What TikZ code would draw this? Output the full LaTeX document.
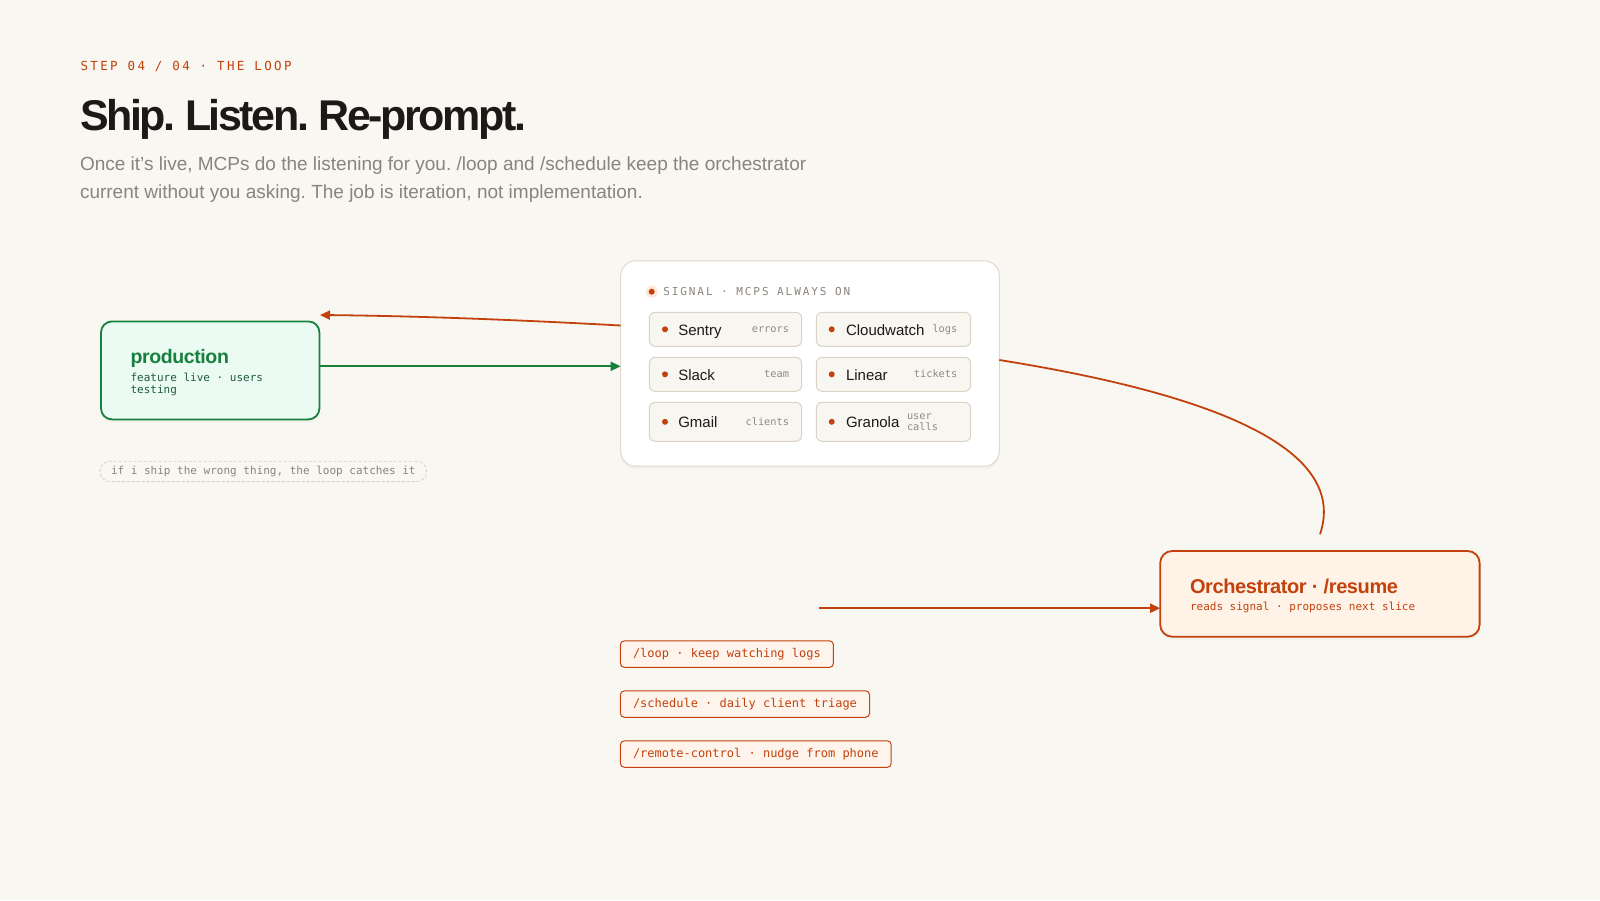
\documentclass[tikz,border=0pt]{standalone}
\usepackage{fontspec}
\setmainfont{Liberation Sans}
\newfontfamily\monof{DejaVu Sans Mono}
\newfontfamily\monosp[LetterSpace=19]{DejaVu Sans Mono}
\newfontfamily\monosig[LetterSpace=17.5]{DejaVu Sans Mono}
\newfontfamily\titlef[LetterSpace=-5.6]{Liberation Sans}
\newfontfamily\headf[LetterSpace=-2]{Liberation Sans}
\usetikzlibrary{arrows.meta,shadows}
\definecolor{bg}{HTML}{F9F7F2}
\definecolor{ink}{HTML}{1C1A17}
\definecolor{muted}{HTML}{8A847C}
\definecolor{tagc}{HTML}{8F8A83}
\definecolor{accent}{HTML}{C2410C}
\definecolor{accentfill}{HTML}{FFF3E8}
\definecolor{pillfill}{HTML}{FFF4EC}
\definecolor{grn}{HTML}{17803D}
\definecolor{grntext}{HTML}{1F5C38}
\definecolor{grnfill}{HTML}{EBFBF3}
\definecolor{panelline}{HTML}{E0D9CC}
\definecolor{cellline}{HTML}{DAD3C5}
\definecolor{cellfill}{HTML}{F8F6F1}
\definecolor{halo}{HTML}{FDE7DA}
\definecolor{dashline}{HTML}{D6D0C4}
\frenchspacing
\begin{document}
\begin{tikzpicture}[x=1pt,y=-1pt,
  every node/.style={inner sep=0pt, outer sep=0pt},
  txt/.style={anchor=base west, inner sep=0pt},
  tagtxt/.style={anchor=base east, inner sep=0pt, text=tagc, font=\monof\fontsize{10.3}{12}\selectfont},
  lbl/.style={anchor=base west, inner sep=0pt, text=ink, font=\fontsize{15}{18}\selectfont},
  softshadow/.style={drop shadow={opacity=0.06, shadow xshift=0pt, shadow yshift=-3pt}},
  prodbox/.style={draw=grn, fill=grnfill, line width=1.8pt, rounded corners=11pt, anchor=north west, softshadow},
  orchbox/.style={draw=accent, fill=accentfill, line width=1.8pt, rounded corners=12pt, anchor=north west, softshadow},
  panelbox/.style={draw=panelline, fill=white, line width=1pt, rounded corners=15pt, anchor=north west, softshadow},
  cell/.style={draw=cellline, fill=cellfill, line width=1pt, rounded corners=6pt, anchor=north west},
  cmd/.style={draw=accent, fill=pillfill, line width=1pt, rounded corners=4pt, anchor=north west,
    minimum height=26.5pt, inner xsep=12.6pt, text height=9pt, text depth=2.5pt, text=accent,
    font=\monof\fontsize{12}{14}\selectfont},
  notepill/.style={draw=dashline, dash pattern=on 3pt off 2pt, line width=0.8pt, rounded corners=10pt,
    anchor=north west, minimum height=20.4pt, inner xsep=11pt, text height=8pt, text depth=2pt,
    text=muted, font=\monof\fontsize{11}{13}\selectfont},
  dotm/.style={circle, fill=accent, minimum size=6pt},
  arr/.style={line width=1.8pt, -{Triangle[length=10pt,width=9pt]}},
]
\fill[bg] (0,0) rectangle (1600,900);
\useasboundingbox (0,0) rectangle (1600,900);

% header
\node[txt, text=accent, font=\monosp\fontsize{12.5}{15}\selectfont] (step) at (80.5,70.8) {STEP 04 / 04 · THE LOOP};
\node[txt, text=ink, font=\titlef\bfseries\fontsize{43}{48}\selectfont] (title) at (80,130.5) {Ship. Listen. Re-prompt.};
\node[txt, text=muted, font=\fontsize{19}{22}\selectfont] (sub1) at (80,170) {Once it's live, MCPs do the listening for you. /loop and /schedule keep the orchestrator};
\node[txt, text=muted, font=\fontsize{19}{22}\selectfont] (sub2) at (80,198.5) {current without you asking. The job is iteration, not implementation.};

% production
\node[prodbox, minimum width=218.4pt, minimum height=98pt] (prod) at (101,321.4) {};
\node[txt, text=grn, font=\headf\bfseries\fontsize{19.5}{22}\selectfont] (prodT) at (130.6,363) {production};
\node[txt, text=grntext, font=\monof\fontsize{11}{13}\selectfont] (prodS1) at (130.6,381.2) {feature live · users};
\node[txt, text=grntext, font=\monof\fontsize{11}{13}\selectfont] (prodS2) at (130.6,393.5) {testing};

\node[notepill] (note) at (100,461.2) {if i ship the wrong thing, the loop catches it};

% signal panel
\node[panelbox, minimum width=378.6pt, minimum height=205.4pt] (panel) at (620.7,260.8) {};
\node[circle, fill=halo, minimum size=12pt] (halo) at (651.7,291.7) {};
\node[dotm] (hdot) at (651.7,291.7) {};
\node[txt, text=muted, font=\monosig\fontsize{11}{13}\selectfont] (sig) at (663.3,295.7) {SIGNAL · MCPS ALWAYS ON};

% cells row 1
\node[cell, minimum width=152.4pt, minimum height=34pt] (c11) at (649.3,312.3) {};
\node[dotm] (d11) at (665,329.3) {};
\node[lbl] (l11) at (678.3,335.2) {Sentry};
\node[tagtxt] (t11) at (789,332.5) {errors};
\node[cell, minimum width=154.4pt, minimum height=34pt] (c12) at (816.3,312.3) {};
\node[dotm] (d12) at (831.7,329.3) {};
\node[lbl] (l12) at (846,335.2) {Cloudwatch};
\node[tagtxt] (t12) at (957.3,332.5) {logs};
% row 2
\node[cell, minimum width=152.4pt, minimum height=34pt] (c21) at (649.3,357.3) {};
\node[dotm] (d21) at (665,374.3) {};
\node[lbl] (l21) at (678.3,380.2) {Slack};
\node[tagtxt] (t21) at (789,377.5) {team};
\node[cell, minimum width=154.4pt, minimum height=34pt] (c22) at (816.3,357.3) {};
\node[dotm] (d22) at (831.7,374.3) {};
\node[lbl] (l22) at (846,380.2) {Linear};
\node[tagtxt] (t22) at (957.3,377.5) {tickets};
% row 3
\node[cell, minimum width=152.4pt, minimum height=39pt] (c31) at (649.3,402.3) {};
\node[dotm] (d31) at (665,421.8) {};
\node[lbl] (l31) at (678.3,427.7) {Gmail};
\node[tagtxt] (t31) at (789,425) {clients};
\node[cell, minimum width=154.4pt, minimum height=39pt] (c32) at (816.3,402.3) {};
\node[dotm] (d32) at (831.7,421.8) {};
\node[lbl] (l32) at (846,427.7) {Granola};
\node[tagtxt, anchor=base west] (t32a) at (907,419.8) {user};
\node[tagtxt, anchor=base west] (t32b) at (907,430.3) {calls};

% orchestrator
\node[orchbox, minimum width=319.4pt, minimum height=85.7pt] (orch) at (1160.2,551) {};
\node[txt, text=accent, font=\headf\bfseries\fontsize{20}{24}\selectfont] (orchT) at (1190,593.5) {Orchestrator · /resume};
\node[txt, text=accent, font=\monof\fontsize{11}{13}\selectfont] (orchS) at (1190,610.5) {reads signal · proposes next slice};

% commands
\node[cmd] (cmd1) at (620.4,640.8) {/loop · keep watching logs};
\node[cmd] (cmd2) at (620.4,690.8) {/schedule · daily client triage};
\node[cmd] (cmd3) at (620.4,740.8) {/remote-control · nudge from phone};

% connectors
\coordinate (prodOut) at (319.4,366.3);
\coordinate (sigIn) at (620.7,366.3);
\coordinate (sigOut) at (620.7,325.5);
\coordinate (prodIn) at (320,315);
\coordinate (sigR) at (999.3,360);
\coordinate (orchTop) at (1320,534.3);
\coordinate (cmdOut) at (819.4,608.2);
\coordinate (orchIn) at (1160.2,608.2);

\draw[arr, grn] (prodOut) -- (sigIn);
\draw[arr, accent] (sigOut) .. controls (520,320) and (420,316) .. (prodIn);
\draw[accent, line width=1.8pt] (sigR) .. controls (1250,400) and (1345,460) .. (orchTop);
\draw[arr, accent] (cmdOut) -- (orchIn);
\end{tikzpicture}
\end{document}
